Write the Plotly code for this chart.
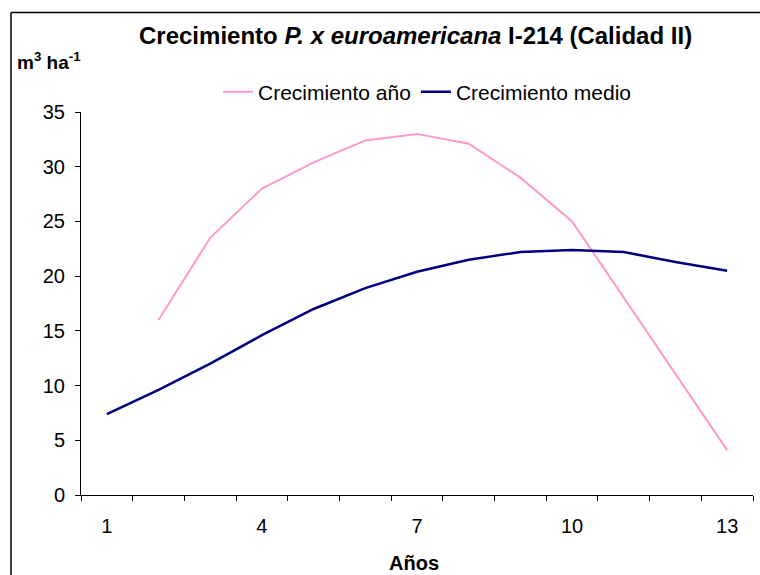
import plotly.graph_objects as go

# Años de la serie
anios = list(range(1, 14))
# Crecimiento anual (m3/ha), sin dato en el primer año
crec_anio = [None, 16.0, 23.5, 28.0, 30.4, 32.4, 33.0, 32.1, 29.0, 25.0, 18.0, 11.0, 4.1]
# Crecimiento medio (m3/ha)
crec_medio = [7.4, 9.6, 12.0, 14.6, 17.0, 18.9, 20.4, 21.5, 22.2, 22.4, 22.2, 21.3, 20.5]
# Etiquetas del eje X
x_ticks = [1, 4, 7, 10, 13]
y_ticks = [0, 5, 10, 15, 20, 25, 30, 35]

W, H = 760, 575
L, R, T, B = 81, 7, 112, 80
PW, PH = W - L - R, H - T - B

def px(xp):
    return (xp - L) / PW

def py(yp):
    return (H - B - yp) / PH

FONT = "Liberation Sans, Arial, sans-serif"

fig = go.Figure()
fig.add_trace(go.Scatter(
    x=anios, y=crec_anio, mode="lines", name="Crecimiento año",
    line=dict(color="#FF99CC", width=2), connectgaps=False,
))
fig.add_trace(go.Scatter(
    x=anios, y=crec_medio, mode="lines", name="Crecimiento medio",
    line=dict(color="#000080", width=2.5),
))

fig.update_layout(
    width=W, height=H,
    margin=dict(l=L, r=R, t=T, b=B),
    paper_bgcolor="white", plot_bgcolor="white",
    font=dict(family=FONT, size=20, color="black"),
    showlegend=True,
    legend=dict(
        orientation="h", x=px(218), y=py(92), xanchor="left", yanchor="middle",
        font=dict(size=21), bgcolor="rgba(0,0,0,0)", tracegroupgap=0,
        itemwidth=30,
    ),
    xaxis=dict(
        range=[0.5, 13.5], tickmode="array", tickvals=x_ticks,
        ticktext=[str(v) for v in x_ticks],
        ticks="", showgrid=False, zeroline=False,
        showline=True, linecolor="black", linewidth=1,
        ticklabelstandoff=13,
        minor=dict(tickvals=[k + 0.5 for k in range(0, 14)], ticks="outside",
                   ticklen=5, tickcolor="black", showgrid=False),
    ),
    yaxis=dict(
        range=[0, 35], tickmode="array", tickvals=y_ticks,
        ticks="outside", ticklen=5, tickcolor="black",
        showgrid=False, zeroline=False,
        showline=True, linecolor="black", linewidth=1,
        ticklabelstandoff=6,
    ),
    annotations=[
        dict(text="<b>Crecimiento <i>P. x euroamericana</i> I-214 (Calidad II)</b>",
             xref="paper", yref="paper", x=px(415), y=py(35),
             xanchor="center", yanchor="middle", showarrow=False,
             font=dict(size=24, family=FONT, color="black")),
        dict(text="<b>m<sup>3</sup> ha<sup>-1</sup></b>",
             xref="paper", yref="paper", x=px(15), y=py(61),
             xanchor="left", yanchor="middle", showarrow=False,
             font=dict(size=19, family=FONT)),
        dict(text="<b>Años</b>",
             xref="paper", yref="paper", x=px(414), y=py(563),
             xanchor="center", yanchor="middle", showarrow=False,
             font=dict(size=20, family=FONT)),
    ],
    shapes=[
        dict(type="line", xref="paper", yref="paper",
             x0=px(11), x1=px(760), y0=py(12.5), y1=py(12.5),
             line=dict(color="black", width=1.5)),
        dict(type="line", xref="paper", yref="paper",
             x0=px(11), x1=px(11), y0=py(12.5), y1=py(575),
             line=dict(color="black", width=1.5)),
    ],
)

fig.write_html("out.html")
